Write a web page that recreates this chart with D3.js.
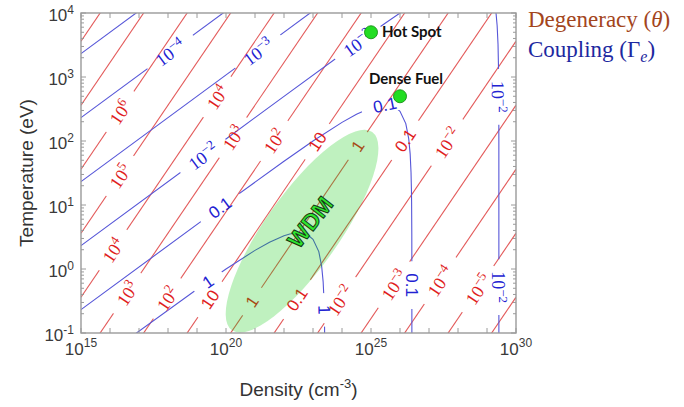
<!DOCTYPE html>
<html>
<head>
<meta charset="utf-8">
<script src="https://cdn.jsdelivr.net/npm/d3@7/dist/d3.min.js"></script>
<style>
  html, body { margin: 0; padding: 0; background: #fff; }
  svg { display: block; }
</style>
</head>
<body>
<svg id="chart" width="684" height="407"></svg>
<script>
// ---------- axes ----------
const densityDomain = [1e15, 1e30];          // cm^-3
const temperatureDomain = [0.1, 1e4];        // eV
const densityTickValues = [1e15, 1e20, 1e25, 1e30];
const densityTickExponents = ["15", "20", "25", "30"];
const temperatureTickValues = [1e-1, 1, 10, 100, 1e3, 1e4];
const temperatureTickExponents = ["-1", "0", "1", "2", "3", "4"];

// ---------- degeneracy contours, theta = 10^k (straight lines in log-log) ----------
// temperature (eV) of each contour at n = 1e15 and at n = 1e30 cm^-3
const thetaExponents  = [8, 7, 6, 5, 4, 3, 2, 1, 0, -1, -2, -3, -4, -5, -6];
const thetaTempAt1e15 = [3.63e3, 3.63e2, 3.63e1, 3.63, 3.63e-1, 3.63e-2, 3.63e-3, 3.63e-4, 3.63e-5, 3.63e-6, 3.63e-7, 3.63e-8, 3.63e-9, 3.63e-10, 3.63e-11];
const thetaTempAt1e30 = [3.63e13, 3.63e12, 3.63e11, 3.63e10, 3.63e9, 3.63e8, 3.63e7, 3.63e6, 3.63e5, 3.63e4, 3.63e3, 3.63e2, 3.63e1, 3.63, 3.63e-1];
// inline labels: exponent of the contour and density where the label sits
const thetaLabelExponents = [6, 5, 4, 4, 3, 3, 2, 2, 1, 1, 0, 0, -1, -1, -2, -2, -3, -4, -5];
const thetaLabelDensities = [2.2e16, 2.2e16, 1.26e16, 4.9e19, 3.9e16, 1.74e20, 9.3e17, 4.6e21, 2.8e19, 1.4e23,
                             7.9e20, 3.5e24, 2.8e22, 1.5e26, 8.5e23, 4.2e27, 6.2e25, 2.4e27, 4.9e28];

// ---------- coupling contours, Gamma_e ([density cm^-3, temperature eV]) ----------
const gamma1e5 = [[1e15, 2323], [1e18, 23230]];
const gamma1e4 = [[1e15, 232.3], [1e21, 23230]];
const gamma1e3 = [[1e15, 23.23], [1e24, 23230]];
const gamma1e2Rising = [[1e15, 2.323], [1e20, 107.7], [1e22, 499], [1e24, 2286], [1e25, 4831],
                        [3.162e25, 6966], [1e26, 9988], [2e26, 12320]];
const gamma1e2Falling = [[1.905e29, 12600], [2.042e29, 10100], [2.239e29, 6330], [2.399e29, 3250],
                         [2.512e29, 1150], [2.547e29, 453], [2.564e29, 113], [2.570e29, 0.08]];
const gamma1e1 = [[1e15, 0.2323], [1e20, 10.69], [1e22, 48.3], [1e23, 99.9], [1e24, 195.6], [3.162e24, 262],
                  [1e25, 330.6], [3.162e25, 368.9], [6.31e25, 345.5], [1e26, 290.9], [1.585e26, 187],
                  [1.995e26, 109], [2.239e26, 63], [2.399e26, 32.5], [2.483e26, 16.5], [2.512e26, 11.2],
                  [2.553e26, 3.4], [2.564e26, 1.13], [2.570e26, 0.08]];
const gamma1 = [[6.31e16, 0.0918], [1e19, 0.483], [1e20, 0.999], [1e21, 1.956], [3.162e21, 2.62], [1e22, 3.306],
                [1.585e22, 3.527], [3.162e22, 3.689], [4.467e22, 3.64], [6.31e22, 3.455], [1e23, 2.909],
                [1.585e23, 1.87], [1.995e23, 1.09], [2.239e23, 0.63], [2.399e23, 0.325], [2.483e23, 0.165],
                [2.512e23, 0.11], [2.518e23, 0.09]];
const couplingCurves = [gamma1e5, gamma1e4, gamma1e3, gamma1e2Rising, gamma1e2Falling, gamma1e1, gamma1];
// inline labels: curve index, exponent of Gamma, and density or temperature of the label
const couplingLabels = [
  { curve: 1, exponent: -4, density: 1.17e18 },
  { curve: 2, exponent: -3, density: 1.26e21 },
  { curve: 3, exponent: -2, density: 1.6e19 },
  { curve: 3, exponent: -2, density: 3.5e24 },
  { curve: 4, exponent: -2, temperature: 490 },
  { curve: 4, exponent: -2, temperature: 0.52 },
  { curve: 5, exponent: -1, density: 6.2e19 },
  { curve: 5, exponent: -1, density: 3.0e25 },
  { curve: 5, exponent: -1, temperature: 0.56 },
  { curve: 6, exponent: 0, density: 2.4e19 },
  { curve: 6, exponent: 0, temperature: 0.23 }
];

// ---------- annotations ----------
const wdmAxisEnds = [[1.6e20, 0.11], [1.1e25, 138]];   // major axis of the WDM region
const wdmLabel = { text: "WDM", density: 8e22, temperature: 5.4 };
const conditionNames = ["Hot Spot", "Dense Fuel"];
const conditionDensities = [1e25, 1e26];
const conditionTemperatures = [5000, 500];

// ---------- drawing ----------
const svg = d3.select("#chart");
const plot = { left: 81, right: 516, top: 13, bottom: 333 };
const x = d3.scaleLog().domain(densityDomain).range([plot.left, plot.right]);
const y = d3.scaleLog().domain(temperatureDomain).range([plot.bottom, plot.top]);

const RED_LINE = "#e35a5a", RED_TEXT = "#e01e1e";
const BLUE_LINE = "#5656d8", BLUE_TEXT = "#2222d2";
const SANS = "'Liberation Sans', Arial, Helvetica, sans-serif";
const SERIF = "'Liberation Serif', 'Times New Roman', serif";

const defs = svg.append("defs");
defs.append("clipPath").attr("id", "plotClip").append("rect")
  .attr("x", plot.left).attr("y", plot.top)
  .attr("width", plot.right - plot.left).attr("height", plot.bottom - plot.top);

function makeMask(id) {
  const m = defs.append("mask").attr("id", id).attr("maskUnits", "userSpaceOnUse")
    .attr("x", 0).attr("y", 0).attr("width", 684).attr("height", 407);
  m.append("rect").attr("x", 0).attr("y", 0).attr("width", 684).attr("height", 407).attr("fill", "white");
  return m;
}
const redMask = makeMask("redGaps");
const blueMask = makeMask("blueGaps");

const lineGen = d3.line().x(d => x(d[0])).y(d => y(d[1]));
const toPx = pts => pts.map(d => [x(d[0]), y(d[1])]);

// point and direction on a pixel polyline where coordinate `key` reaches `target`
function locate(px, key, target, fromEnd) {
  const idx = d3.range(px.length - 1);
  if (fromEnd) idx.reverse();
  for (const i of idx) {
    const a = px[i], b = px[i + 1];
    const lo = Math.min(a[key], b[key]), hi = Math.max(a[key], b[key]);
    if (hi > lo && target >= lo && target <= hi) {
      const t = (target - a[key]) / (b[key] - a[key]);
      let ang = Math.atan2(b[1] - a[1], b[0] - a[0]) * 180 / Math.PI;
      if (ang > 90.5) ang -= 180;
      if (ang < -89.5) ang += 180;
      return { p: [a[0] + t * (b[0] - a[0]), a[1] + t * (b[1] - a[1])], angle: ang };
    }
  }
  return null;
}

function labelParts(e) {
  if (e === 0) return { base: "1" };
  if (e === 1) return { base: "10" };
  if (e === -1) return { base: "0.1" };
  return { base: "10", sup: e < 0 ? "\u2212" + (-e) : String(e) };
}

function drawLabel(layer, mask, loc, parts, color) {
  const tf = `translate(${loc.p[0]},${loc.p[1]}) rotate(${loc.angle})`;
  const g = layer.append("g").attr("transform", tf);
  const t = g.append("text").attr("text-anchor", "middle").attr("fill", color);
  if (parts.sup) {
    t.attr("font-family", SERIF).attr("font-size", 18).attr("y", 7);
    t.append("tspan").text(parts.base);
    t.append("tspan").attr("font-size", 13).attr("dy", -7).text(parts.sup);
  } else {
    t.attr("font-family", SANS).attr("font-size", 17).attr("y", 6).text(parts.base);
  }
  const b = t.node().getBBox();
  const pad = 12;
  mask.append("rect").attr("transform", tf)
    .attr("x", b.x - pad).attr("y", b.y + 2)
    .attr("width", b.width + 2 * pad).attr("height", b.height - 4)
    .attr("fill", "black");
}

// contour lines
const lines = svg.append("g").attr("clip-path", "url(#plotClip)");
const redLines = lines.append("g").attr("mask", "url(#redGaps)");
const blueLines = lines.append("g").attr("mask", "url(#blueGaps)");
const thetaPolylines = thetaExponents.map((k, i) =>
  [[densityDomain[0], thetaTempAt1e15[i]], [densityDomain[1], thetaTempAt1e30[i]]]);

redLines.selectAll("path").data(thetaPolylines).join("path")
  .attr("d", lineGen).attr("fill", "none").attr("stroke", RED_LINE).attr("stroke-width", 1.1);
blueLines.selectAll("path").data(couplingCurves).join("path")
  .attr("d", lineGen).attr("fill", "none").attr("stroke", BLUE_LINE).attr("stroke-width", 1.1);

// contour labels
const labels = svg.append("g");
thetaLabelExponents.forEach((k, i) => {
  const px = toPx(thetaPolylines[thetaExponents.indexOf(k)]);
  const loc = locate(px, 0, x(thetaLabelDensities[i]), false);
  drawLabel(labels, redMask, loc, labelParts(k), RED_TEXT);
});
couplingLabels.forEach(l => {
  const px = toPx(couplingCurves[l.curve]);
  const loc = l.density !== undefined
    ? locate(px, 0, x(l.density), false)
    : locate(px, 1, y(l.temperature), true);
  drawLabel(labels, blueMask, loc, labelParts(l.exponent), BLUE_TEXT);
});

// WDM region
const e0 = [x(wdmAxisEnds[0][0]), y(wdmAxisEnds[0][1])];
const e1 = [x(wdmAxisEnds[1][0]), y(wdmAxisEnds[1][1])];
const ecx = (e0[0] + e1[0]) / 2, ecy = (e0[1] + e1[1]) / 2;
const erx = Math.hypot(e1[0] - e0[0], e1[1] - e0[1]) / 2;
const eang = Math.atan2(e1[1] - e0[1], e1[0] - e0[0]) * 180 / Math.PI;
svg.append("ellipse")
  .attr("transform", `translate(${ecx},${ecy}) rotate(${eang})`)
  .attr("rx", erx).attr("ry", 37)
  .attr("fill", "rgb(0,200,0)").attr("fill-opacity", 0.25);

svg.append("text")
  .attr("transform", `translate(${x(wdmLabel.density)},${y(wdmLabel.temperature)}) rotate(-52)`)
  .attr("text-anchor", "middle").attr("y", 8)
  .attr("font-family", SANS).attr("font-weight", "bold").attr("font-size", 23)
  .attr("fill", "#2ee62e").attr("stroke", "#143814").attr("stroke-width", 1)
  .text(wdmLabel.text);

// plasma conditions
conditionNames.forEach((name, i) => {
  const cx = x(conditionDensities[i]), cy = y(conditionTemperatures[i]);
  svg.append("circle").attr("cx", cx).attr("cy", cy).attr("r", 6.5)
    .attr("fill", "#22dd22").attr("stroke", "#178f17").attr("stroke-width", 0.9);
  const t = svg.append("text").attr("font-family", "Lato, 'Open Sans', sans-serif")
    .attr("font-weight", "bold").attr("font-size", 15).attr("fill", "#111").text(name);
  if (i === 0) t.attr("x", cx + 11).attr("y", cy + 5);
  else t.attr("x", cx + 6).attr("y", cy - 12).attr("text-anchor", "middle");
});

// axes box and ticks
const axisG = svg.append("g").attr("stroke", "#9a9a9a").attr("fill", "none");
axisG.append("rect").attr("x", plot.left).attr("y", plot.top)
  .attr("width", plot.right - plot.left).attr("height", plot.bottom - plot.top).attr("stroke-width", 1.4);
const xMajor = d3.range(15, 31).map(e => Math.pow(10, e));
xMajor.forEach(v => {
  const px = x(v);
  axisG.append("line").attr("x1", px).attr("x2", px).attr("y1", plot.bottom).attr("y2", plot.bottom - 5);
  axisG.append("line").attr("x1", px).attr("x2", px).attr("y1", plot.top).attr("y2", plot.top + 5);
});
d3.range(-1, 4).forEach(d => {
  d3.range(1, 10).forEach(m => {
    const py = y(m * Math.pow(10, d));
    const len = m === 1 ? 5 : 3;
    axisG.append("line").attr("x1", plot.left).attr("x2", plot.left + len).attr("y1", py).attr("y2", py);
    axisG.append("line").attr("x1", plot.right).attr("x2", plot.right - len).attr("y1", py).attr("y2", py);
  });
});
axisG.append("line").attr("x1", plot.left).attr("x2", plot.left + 5).attr("y1", y(1e4)).attr("y2", y(1e4));
axisG.append("line").attr("x1", plot.right).attr("x2", plot.right - 5).attr("y1", y(1e4)).attr("y2", y(1e4));

// tick labels
const tickText = svg.append("g").attr("font-family", SANS).attr("fill", "#3a3a3a");
densityTickValues.forEach((v, i) => {
  const t = tickText.append("text").attr("x", x(v)).attr("y", plot.bottom + 22)
    .attr("text-anchor", "middle").attr("font-size", 17);
  t.append("tspan").text("10");
  t.append("tspan").attr("font-size", 12).attr("dy", -8).text(densityTickExponents[i]);
});
temperatureTickValues.forEach((v, i) => {
  const t = tickText.append("text").attr("x", plot.left - 7).attr("y", y(v) + 8)
    .attr("text-anchor", "end").attr("font-size", 17);
  t.append("tspan").text("10");
  t.append("tspan").attr("font-size", 12).attr("dy", -7).text(temperatureTickExponents[i]);
});

// axis titles
const xt = svg.append("text").attr("x", (plot.left + plot.right) / 2).attr("y", 396)
  .attr("text-anchor", "middle").attr("font-family", SANS).attr("font-size", 19).attr("fill", "#333");
xt.append("tspan").text("Density (cm");
xt.append("tspan").attr("font-size", 13).attr("dy", -8).text("-3");
xt.append("tspan").attr("dy", 8).text(")");
svg.append("text").attr("transform", `translate(33,${(plot.top + plot.bottom) / 2}) rotate(-90)`)
  .attr("text-anchor", "middle").attr("font-family", SANS).attr("font-size", 19).attr("fill", "#333")
  .text("Temperature (eV)");

// legend text
const lg1 = svg.append("text").attr("x", 528).attr("y", 27).attr("font-family", SERIF)
  .attr("font-size", 23).attr("fill", "#a3451c");
lg1.append("tspan").text("Degeneracy (");
lg1.append("tspan").attr("font-style", "italic").text("\u03b8");
lg1.append("tspan").text(")");
const lg2 = svg.append("text").attr("x", 528).attr("y", 57).attr("font-family", SERIF)
  .attr("font-size", 23).attr("fill", "#1d28a0");
lg2.append("tspan").text("Coupling (\u0393");
lg2.append("tspan").attr("font-style", "italic").attr("font-size", 16).attr("dy", 5).text("e");
lg2.append("tspan").attr("dy", -5).text(")");
</script>
</body>
</html>
